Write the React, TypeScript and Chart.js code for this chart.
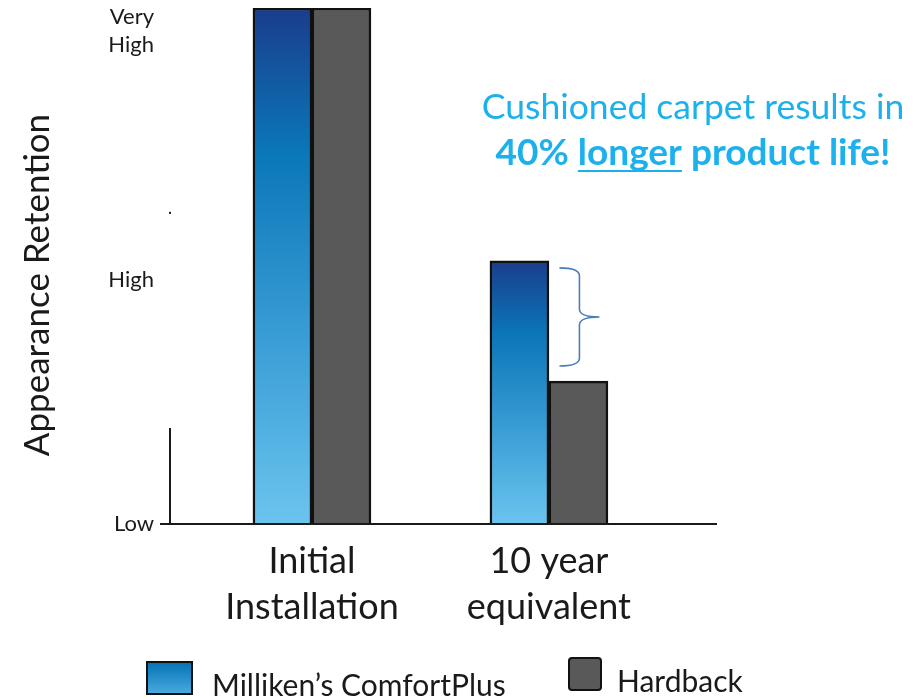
import { useEffect, useRef } from 'react';
import { Chart, registerables } from 'chart.js';

Chart.register(...registerables);

// ---- data ----
const categories: string[][] = [['Initial', 'Installation'], ['10 year', 'equivalent']];
const seriesNames = ['Milliken\u2019s ComfortPlus', 'Hardback'];
const comfortPlusValues = [100, 51];
const hardbackValues = [100, 27.7];
const yTickValues = [0, 47.3, 95.5];
const yTickLabels: string[][] = [['Low'], ['High'], ['Very', 'High']];
const yAxisTitle = 'Appearance Retention';
const axisStubTop = 18.6;
const strayDotValue = 60.3;
const calloutLine1 = 'Cushioned carpet results in';
const calloutLine2 = ['40% ', 'longer', ' product life!'];

const FONT = 'Lato, "Open Sans", sans-serif';
const TEXT = '#1a1a1a';
const CALLOUT = '#1cb0ec';
const HARD = '#595959';

function blueGradient(ctx: CanvasRenderingContext2D, top: number, bottom: number) {
  const g = ctx.createLinearGradient(0, top, 0, bottom);
  g.addColorStop(0, '#1a3d8d');
  g.addColorStop(0.28, '#0a77b8');
  g.addColorStop(0.65, '#3b9ed6');
  g.addColorStop(1, '#6bc4ee');
  return g;
}

const decorations = {
  id: 'decorations',
  afterDatasetsDraw(chart: any) {
    const { ctx, chartArea, scales } = chart;
    const y = scales.y;
    ctx.save();
    ctx.strokeStyle = TEXT;
    ctx.lineWidth = 2;
    ctx.beginPath();
    ctx.moveTo(chartArea.left, y.getPixelForValue(0));
    ctx.lineTo(chartArea.left, y.getPixelForValue(axisStubTop));
    ctx.stroke();
    ctx.fillStyle = TEXT;
    ctx.fillRect(chartArea.left - 1, y.getPixelForValue(strayDotValue) - 1, 2, 2);

    // brace between the two 10-year bars
    const hb = chart.getDatasetMeta(1).data[1];
    const topY = y.getPixelForValue(comfortPlusValues[1]) + 7;
    const botY = y.getPixelForValue(hardbackValues[1]) - 15;
    const midY = (topY + botY) / 2;
    const L = hb.x - 19;
    const S = hb.x + 1;
    const T = hb.x + 21;
    const r = 8;
    ctx.strokeStyle = '#4a7ebb';
    ctx.lineWidth = 1.6;
    ctx.beginPath();
    ctx.moveTo(L, topY);
    ctx.quadraticCurveTo(S, topY, S, topY + r);
    ctx.lineTo(S, midY - r);
    ctx.quadraticCurveTo(S, midY, T, midY);
    ctx.moveTo(T, midY);
    ctx.quadraticCurveTo(S, midY, S, midY + r);
    ctx.lineTo(S, botY - r);
    ctx.quadraticCurveTo(S, botY, L, botY);
    ctx.stroke();
    ctx.restore();
  },
  afterDraw(chart: any) {
    const { ctx, chartArea } = chart;
    ctx.save();
    ctx.fillStyle = TEXT;
    ctx.font = `35px ${FONT}`;
    ctx.textAlign = 'center';
    ctx.textBaseline = 'middle';
    ctx.translate(30, (chartArea.top + chartArea.bottom) / 2 + 19);
    ctx.rotate(-Math.PI / 2);
    ctx.fillText(yAxisTitle, 0, 0);
    ctx.restore();

    // callout
    ctx.save();
    const cx = 685;
    ctx.fillStyle = CALLOUT;
    ctx.textBaseline = 'alphabetic';
    ctx.font = `35.5px ${FONT}`;
    ctx.textAlign = 'center';
    ctx.fillText(calloutLine1, cx, 111);
    ctx.font = `bold 37px ${FONT}`;
    ctx.textAlign = 'left';
    const widths = calloutLine2.map((s) => ctx.measureText(s).width);
    const total = widths.reduce((a, b) => a + b, 0);
    let x = cx - total / 2;
    calloutLine2.forEach((s, i) => {
      ctx.fillText(s, x, 157);
      if (i === 1) ctx.fillRect(x, 162, widths[i], 2);
      x += widths[i];
    });
    ctx.restore();

    // legend
    ctx.save();
    ctx.font = `30px ${FONT}`;
    ctx.textBaseline = 'alphabetic';
    ctx.textAlign = 'left';
    ctx.lineWidth = 2;
    ctx.strokeStyle = '#111';
    ctx.fillStyle = blueGradient(ctx, 640, 700);
    ctx.fillRect(139, 654, 45, 32);
    ctx.strokeRect(139, 654, 45, 32);
    ctx.fillStyle = TEXT;
    ctx.fillText(chart.data.datasets[0].label, 204, 688);
    ctx.fillStyle = HARD;
    ctx.beginPath();
    ctx.roundRect(561, 650, 32, 32, 3);
    ctx.fill();
    ctx.stroke();
    ctx.fillStyle = TEXT;
    ctx.fillText(chart.data.datasets[1].label, 609, 684);
    ctx.restore();
  },
};

export default function App() {
  const ref = useRef<HTMLCanvasElement>(null);
  useEffect(() => {
    if (!ref.current) return;
    const chart = new Chart(ref.current, {
      type: 'bar',
      data: {
        datasets: [
          {
            label: seriesNames[0],
            data: comfortPlusValues.map((v, i) => ({ x: i, y: v })),
            backgroundColor: (c: any) => {
              const ch = c.chart;
              if (!ch.chartArea || !c.raw) return '#0a77b8';
              const ys = ch.scales.y;
              return blueGradient(ch.ctx, ys.getPixelForValue(c.raw.y), ys.getPixelForValue(0));
            },
            borderColor: '#111',
            borderWidth: 2.5,
            barThickness: 59,
          },
          {
            label: seriesNames[1],
            data: hardbackValues.map((v, i) => ({ x: i, y: v })),
            backgroundColor: HARD,
            borderColor: '#111',
            borderWidth: 2.5,
            barThickness: 59,
          },
        ],
      },
      options: {
        animation: false,
        responsive: false,
        layout: { padding: { top: 0, right: 196, bottom: 66, left: 0 } },
        plugins: { legend: { display: false }, tooltip: { enabled: false } },
        scales: {
          x: {
            type: 'linear',
            offset: false,
            min: -0.599,
            max: 1.705,
            grid: { display: false, offset: false },
            border: { display: true, color: TEXT, width: 2 },
            afterBuildTicks: (s: any) => {
              s.ticks = categories.map((_, i) => ({ value: i }));
            },
            afterFit: (s: any) => {
              s.height = 110;
              s.paddingLeft = 0;
              s.paddingRight = 0;
            },
            ticks: {
              autoSkip: false,
              maxRotation: 0,
              padding: 7,
              color: TEXT,
              font: { family: FONT, size: 36, lineHeight: 1.26 },
              callback: (v: any) => categories[v as number] ?? '',
            },
          },
          y: {
            min: 0,
            max: 100,
            border: { display: false },
            grid: {
              drawOnChartArea: false,
              drawTicks: true,
              tickLength: 10,
              lineWidth: 2,
              color: (c: any) => (c.tick && c.tick.value === 0 ? TEXT : 'rgba(0,0,0,0)'),
            },
            afterBuildTicks: (s: any) => {
              s.ticks = yTickValues.map((v) => ({ value: v }));
            },
            afterFit: (s: any) => {
              s.width = 162;
              s.paddingTop = 0;
              s.paddingBottom = 0;
            },
            ticks: {
              autoSkip: false,
              padding: 6,
              color: TEXT,
              font: { family: FONT, size: 22, lineHeight: 1.27 },
              callback: (v: any) => {
                const i = yTickValues.indexOf(v as number);
                return i >= 0 ? yTickLabels[i] : '';
              },
            },
          },
        },
      },
      plugins: [decorations],
    } as any);
    return () => chart.destroy();
  }, []);
  return (
    <canvas ref={ref} width={904} height={692} style={{ display: 'block' }} />
  );
}
